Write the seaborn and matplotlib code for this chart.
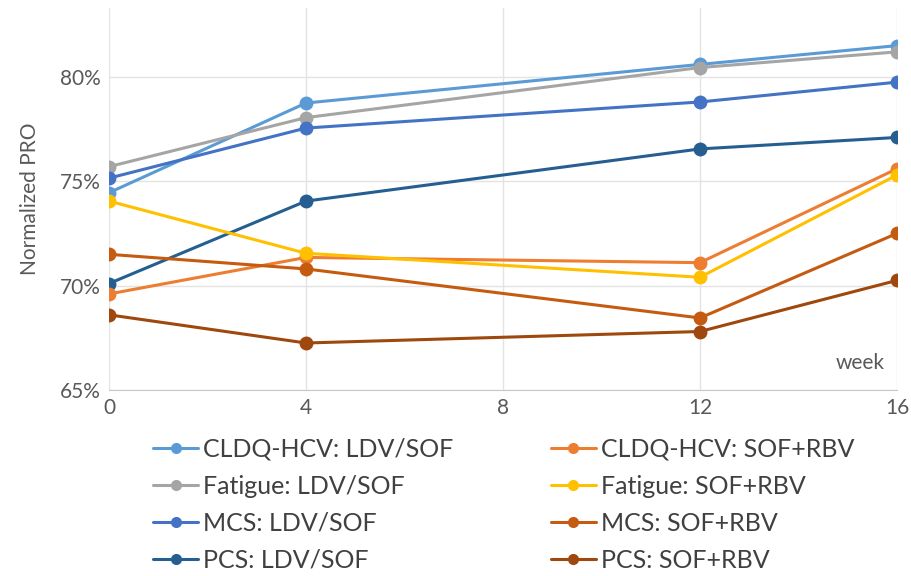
import matplotlib
matplotlib.use("Agg")
import matplotlib.pyplot as plt
import seaborn as sns
import pandas as pd
from matplotlib.ticker import FuncFormatter

weeks = [0, 4, 12, 16]
series_names = [
    "CLDQ-HCV: LDV/SOF", "Fatigue: LDV/SOF", "MCS: LDV/SOF", "PCS: LDV/SOF",
    "CLDQ-HCV: SOF+RBV", "Fatigue: SOF+RBV", "MCS: SOF+RBV", "PCS: SOF+RBV",
]
cldq_ldv = [74.45, 78.75, 80.6, 81.5]
fatigue_ldv = [75.7, 78.05, 80.45, 81.2]
mcs_ldv = [75.15, 77.55, 78.8, 79.75]
pcs_ldv = [70.1, 74.05, 76.55, 77.1]
cldq_rbv = [69.6, 71.35, 71.1, 75.6]
fatigue_rbv = [74.05, 71.55, 70.4, 75.3]
mcs_rbv = [71.5, 70.8, 68.45, 72.5]
pcs_rbv = [68.6, 67.25, 67.8, 70.25]
values = [cldq_ldv, fatigue_ldv, mcs_ldv, pcs_ldv, cldq_rbv, fatigue_rbv, mcs_rbv, pcs_rbv]
colors = ["#5B9BD5", "#A5A5A5", "#4472C4", "#255E91",
          "#ED7D31", "#FFC000", "#C55A11", "#9E480E"]
y_ticks = [65, 70, 75, 80]
x_ticks = [0, 4, 8, 12, 16]

rows = []
for name, vals in zip(series_names, values):
    for w, v in zip(weeks, vals):
        rows.append({"week": w, "value": v, "series": name})
df = pd.DataFrame(rows)

sns.set_style("white")
plt.rcParams["font.family"] = ["Lato", "DejaVu Sans"]

fig = plt.figure(figsize=(9.12, 5.76), dpi=100)
ax = fig.add_axes([0.1195, 0.323, 0.864, 0.663])

palette = dict(zip(series_names, colors))
sns.lineplot(data=df, x="week", y="value", hue="series", hue_order=series_names,
             palette=palette, marker="o", markersize=10, markeredgewidth=0,
             linewidth=2.2, ax=ax, legend=False)

ax.set_xlim(0, 16)
ax.set_ylim(65, 83.3)
ax.set_xticks(x_ticks)
ax.set_yticks(y_ticks)
ax.yaxis.set_major_formatter(FuncFormatter(lambda v, p: f"{v:.0f}%"))
ax.grid(True, color="#E3E3E3", linewidth=1)
ax.set_axisbelow(True)
for s in ["top", "right", "left"]:
    ax.spines[s].set_visible(False)
ax.spines["bottom"].set_color("#C8C8C8")
ax.tick_params(axis="both", length=0, labelsize=15, labelcolor="#595959", pad=6)
ax.set_xlabel("")
ax.set_ylabel("Normalized PRO", fontsize=15, color="#595959", labelpad=14)
ax.text(0.985, 0.045, "week", transform=ax.transAxes, ha="right", va="bottom",
        fontsize=15, color="#595959")

handles = [plt.Line2D([0], [0], color=c, marker="o", markersize=8, markeredgewidth=0,
                      linewidth=2.2) for c in colors]
fig.legend(handles, series_names, loc="upper left", bbox_to_anchor=(0.168, 0.24),
           ncol=2, frameon=False, fontsize=18, handlelength=1.8, handletextpad=0.2,
           columnspacing=3.9, labelspacing=0.56, labelcolor="#404040",
           borderaxespad=0, borderpad=0)

fig.savefig("out.png", dpi=100)
